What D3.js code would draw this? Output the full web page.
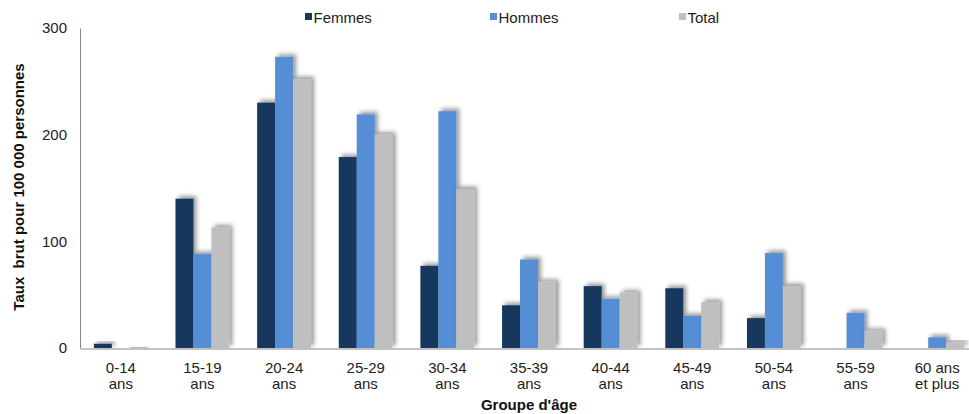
<!DOCTYPE html>
<html>
<head>
<meta charset="utf-8">
<script src="https://cdn.jsdelivr.net/npm/d3@7"></script>
<style>
  html, body { margin: 0; padding: 0; background: #fff; }
  svg { display: block; font-family: "Liberation Sans", Arial, sans-serif; }
</style>
</head>
<body>
<svg id="chart" width="969" height="414"></svg>
<script>
// Age groups (two-line labels)
const categories = ["0-14|ans", "15-19|ans", "20-24|ans", "25-29|ans", "30-34|ans",
  "35-39|ans", "40-44|ans", "45-49|ans", "50-54|ans", "55-59|ans", "60 ans|et plus"];

// Crude rate per 100 000 persons
const femmes = [4, 140, 230, 179, 77, 40, 58, 56, 28, 0, 0];
const hommes = [0, 88, 273, 219, 222, 83, 46, 30, 89, 33, 10];
const total  = [1, 113, 252, 200, 149, 62, 52, 43, 58, 16, 5];

const seriesNames = ["Femmes", "Hommes", "Total"];
const seriesColors = ["#17375E", "#558ED5", "#BFBFBF"];
const yTicks = [0, 100, 200, 300];

const seriesValues = [femmes, hommes, total];

const svg = d3.select("#chart");

// Soft drop shadow under each bar
const defs = svg.append("defs");
const f = defs.append("filter").attr("id", "shadow")
  .attr("x", "-50%").attr("y", "-50%").attr("width", "200%").attr("height", "200%");
f.append("feDropShadow").attr("dx", 3).attr("dy", -2.5)
  .attr("stdDeviation", 2).attr("flood-color", "#000").attr("flood-opacity", 0.4);

const x0 = d3.scaleBand().domain(categories).range([80, 978])
  .paddingInner(0.34).paddingOuter(0.17);
const x1 = d3.scaleBand().domain(seriesNames).range([0, x0.bandwidth()]);
const y = d3.scaleLinear().domain([0, 300]).range([348, 28]);

// Bars
const groups = svg.append("g").selectAll("g")
  .data(categories).join("g")
  .attr("transform", d => `translate(${x0(d)},0)`);

groups.selectAll("rect")
  .data((d, i) => seriesNames.map((s, k) => ({ s, v: seriesValues[k][i], c: seriesColors[k] })))
  .join("rect")
  .attr("x", d => x1(d.s))
  .attr("width", x1.bandwidth())
  .attr("y", d => y(d.v))
  .attr("height", d => y(0) - y(d.v))
  .attr("fill", d => d.c)
  .attr("filter", d => d.v > 0 ? "url(#shadow)" : null);

// Y axis
const yAxis = svg.append("g").attr("transform", "translate(80,0)")
  .call(d3.axisLeft(y).tickValues(yTicks).tickSize(0).tickPadding(13));
yAxis.select(".domain").attr("stroke", "#898989").attr("stroke-width", 1);
yAxis.selectAll("text").attr("font-size", 15).attr("fill", "#222")
  .attr("font-family", "Liberation Sans, Arial, sans-serif");

// X axis
const xAxis = svg.append("g").attr("transform", "translate(0,348.5)")
  .call(d3.axisBottom(x0).tickSize(0).tickFormat(""));
xAxis.select(".domain").attr("stroke", "#898989").attr("stroke-width", 1);
xAxis.selectAll(".tick").each(function (d) {
  const lines = d.split("|");
  const t = d3.select(this).append("text")
    .attr("text-anchor", "middle").attr("fill", "#222")
    .attr("font-size", 15).attr("font-family", "Liberation Sans, Arial, sans-serif");
  lines.forEach((ln, i) => {
    t.append("tspan").attr("x", 0).attr("y", 24.5 + i * 16).text(ln);
  });
});

// Axis titles
svg.append("text")
  .attr("transform", "translate(23.5,187) rotate(-90)")
  .attr("text-anchor", "middle").attr("font-weight", "bold")
  .attr("font-size", 15).attr("fill", "#111")
  .attr("xml:space", "preserve")
  .text("Taux  brut pour 100 000 personnes");

svg.append("text")
  .attr("x", 529).attr("y", 410)
  .attr("text-anchor", "middle").attr("font-weight", "bold")
  .attr("font-size", 15).attr("fill", "#111")
  .text("Groupe d'âge");

// Legend
const legendX = [305, 490, 679];
const legend = svg.append("g").selectAll("g")
  .data(seriesNames).join("g")
  .attr("transform", (d, i) => `translate(${legendX[i]},0)`);
legend.append("rect").attr("x", 0).attr("y", 13).attr("width", 7).attr("height", 7)
  .attr("fill", (d, i) => seriesColors[i]);
legend.append("text").attr("x", 8.5).attr("y", 22.5)
  .attr("font-size", 15).attr("fill", "#222").text(d => d);
</script>
</body>
</html>
